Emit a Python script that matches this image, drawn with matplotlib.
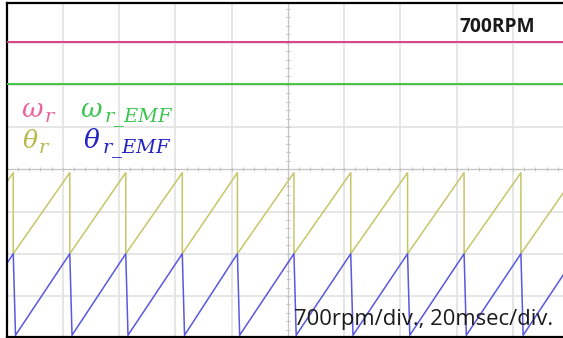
import numpy as np
import matplotlib
matplotlib.use("Agg")
import matplotlib.pyplot as plt

# --- scope settings -------------------------------------------------------
ms_per_div = 20.0          # time base
rpm_per_div = 700.0        # vertical scale of the speed channels
time_window_ms = (-100.0, 100.0)

# --- trace levels (in screen divisions, 0 = centre line) ------------------
omega_r_level = 3.02        # ω_r   (measured speed)
omega_emf_level = 2.02      # ω_r_EMF (back-EMF estimated speed)

# sawtooth angle traces: level at reset and level just before reset
theta_r_range = (-2.0, -0.08)
theta_emf_range = (-3.93, -2.0)

# instants (ms) where the angle traces wrap around
reset_times_ms = [-97.6, -77.5, -57.6, -37.5, -17.9, 2.2, 22.4, 42.6, 62.7, 82.9]
emf_drop_lag_ms = 0.8       # estimated angle falls slightly slower

# --- colours --------------------------------------------------------------
c_omega_r = "#dc3f8c"
c_omega_emf = "#40c840"
c_theta_r = "#c6c66a"
c_theta_emf = "#5858e0"
c_grid = "#e4e4e4"
c_centre = "#c4c4c4"

W, H = 563, 338
fig = plt.figure(figsize=(W / 100, H / 100), dpi=100)
fig.patch.set_facecolor("white")
plt.rcParams["mathtext.fontset"] = "dejavuserif"

# axes geometry in pixels
left_px, right_px = 6.5, 569.0
top_px, bottom_px = 3.0, 336.5
ax = fig.add_axes([left_px / W, 1 - bottom_px / H,
                   (right_px - left_px) / W, (bottom_px - top_px) / H])
ax.set_xlim(time_window_ms)
ax.set_ylim(-3.96, 3.94)
ax.set_facecolor("white")
ax.set_xticks([])
ax.set_yticks([])
for side in ("left", "top", "bottom"):
    ax.spines[side].set_color("black")
    ax.spines[side].set_linewidth(1.6)
ax.spines["right"].set_visible(False)

# graticule
for k in range(-5, 6):
    if k != 0:
        ax.axvline(k * ms_per_div, color=c_grid, lw=1.3, zorder=0)
for k in range(-4, 5):
    if k != 0:
        ax.axhline(k, color=c_grid, lw=1.3, zorder=0)
ax.axvline(0, color=c_centre, lw=0.9, zorder=0.5)
ax.axhline(0, color=c_centre, lw=0.9, zorder=0.5)
sub_x = np.arange(-100, 100.1, ms_per_div / 5)
sub_y = np.arange(-4, 4.01, 0.2)
ax.plot(sub_x, np.zeros_like(sub_x), ls="none", marker="|", ms=3,
        mew=0.8, color=c_centre, zorder=0.6)
ax.plot(np.zeros_like(sub_y), sub_y, ls="none", marker="_", ms=3,
        mew=0.8, color=c_centre, zorder=0.6)

# speed traces
ax.axhline(omega_r_level, color=c_omega_r, lw=1.4, zorder=3)
ax.axhline(omega_emf_level, color=c_omega_emf, lw=1.4, zorder=3)

# angle traces built from the wrap instants
resets = np.array(reset_times_ms)
period = np.mean(np.diff(resets))
edges = np.concatenate([[resets[0] - period], resets, [resets[-1] + period]])

tr_x, tr_y = [], []
te_x, te_y = [], []
lo_r, hi_r = theta_r_range
lo_e, hi_e = theta_emf_range
for i in range(len(edges) - 1):
    t0, t1 = edges[i], edges[i + 1]
    # θ_r : ramp then vertical wrap
    tr_x += [t0, t1, t1]
    tr_y += [lo_r, hi_r, lo_r]
    # θ_r_EMF : ramp then slightly slanted wrap
    te_x += [t0 + emf_drop_lag_ms, t1, t1 + emf_drop_lag_ms]
    te_y += [lo_e, hi_e, lo_e]

ax.plot(tr_x, tr_y, color=c_theta_r, lw=1.1, zorder=2)
ax.plot(te_x, te_y, color=c_theta_emf, lw=1.1, zorder=2)


# trace labels: symbol and subscript set separately for a wider subscript
def fx(px):
    return px / W


def fy(py):
    return 1 - py / H


def symbol_label(x, y, sym, sym_size, sub, sub_dx, color):
    fig.text(fx(x), fy(y), rf"${sym}$", fontsize=sym_size, color=color,
             ha="left", va="baseline")
    fig.text(fx(x + sub_dx), fy(y + 5), rf"${sub}$", fontsize=14,
             color=color, ha="left", va="baseline")


symbol_label(21, 117, r"\omega", 19, "r", 23, "#e8649e")
symbol_label(80, 117, r"\omega", 19, r"r\_EMF", 24, "#3cc650")
symbol_label(22, 148, r"\theta", 18, "r", 16, "#b8b84a")
symbol_label(83, 148, r"\theta", 19, r"r\_EMF", 19, "#2424c4")

fig.text(fx(459), fy(32), "700RPM", fontsize=13.8, fontweight="bold",
         family=["Open Sans", "DejaVu Sans"], color="#1a1a1a",
         ha="left", va="baseline")
fig.text(fx(294), fy(325), "700rpm/div., 20msec/div.", fontsize=15.8,
         family=["Open Sans", "DejaVu Sans"], color="#1a1a1a",
         ha="left", va="baseline")

fig.savefig("out.png", dpi=100, facecolor="white")
